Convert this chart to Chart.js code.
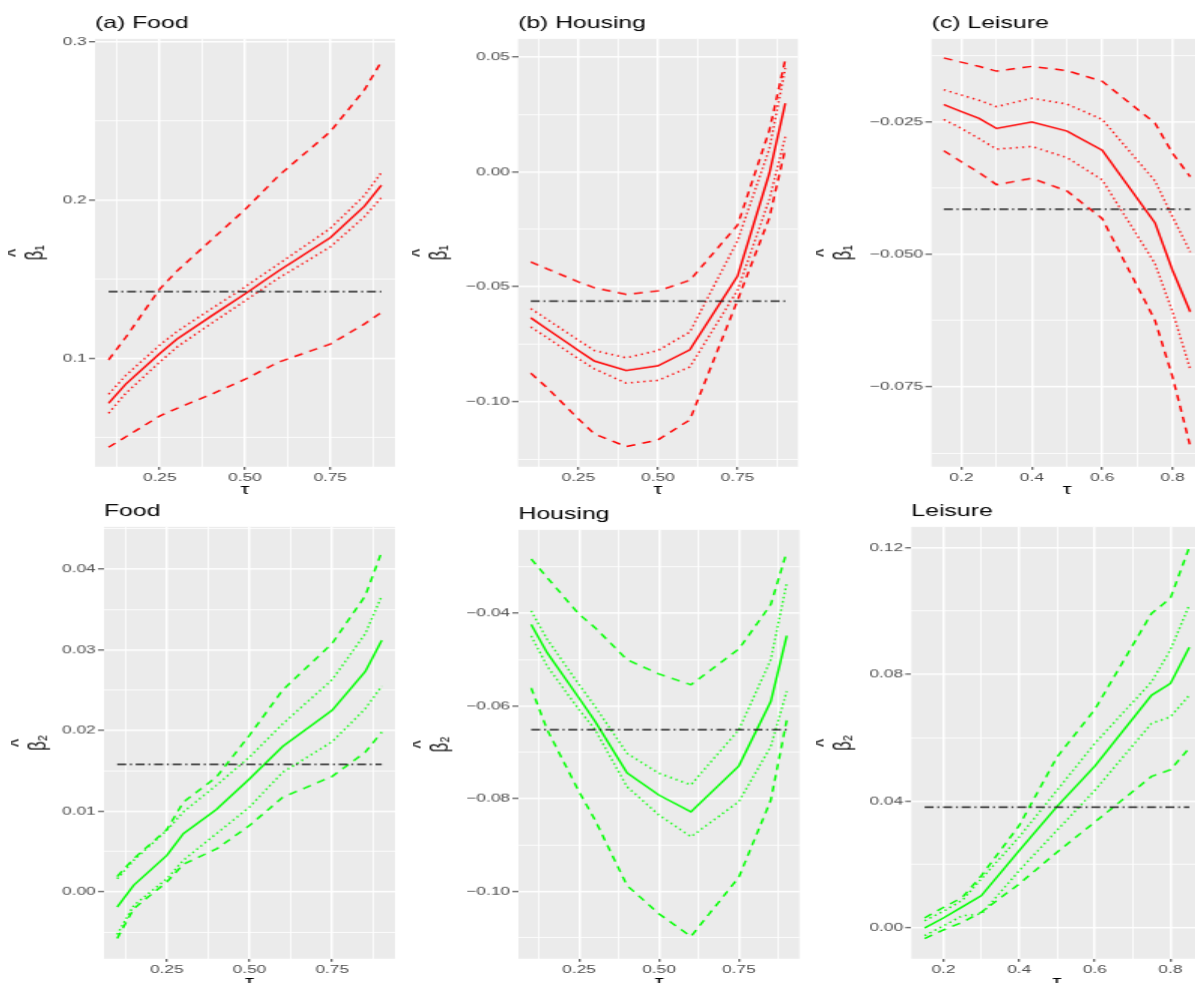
<!DOCTYPE html>
<html>
<head>
<meta charset="utf-8">
<title>Quantile coefficients</title>
<script src="https://cdn.jsdelivr.net/npm/chart.js@4.4.0/dist/chart.umd.min.js"></script>
<style>
  html, body { margin: 0; padding: 0; background: #fff; overflow: hidden; width: 1195px; height: 983px; }
  .panel { position: absolute; transform: scaleX(1.5); transform-origin: 0 0; }
</style>
</head>
<body>
<div class="panel" id="pa"><canvas id="ca"></canvas></div>
<div class="panel" id="pb"><canvas id="cb"></canvas></div>
<div class="panel" id="pc"><canvas id="cc"></canvas></div>
<div class="panel" id="pd"><canvas id="cd"></canvas></div>
<div class="panel" id="pe"><canvas id="ce"></canvas></div>
<div class="panel" id="pf"><canvas id="cf"></canvas></div>
<script>
// quantile levels
const tauFood    = [0.1, 0.15, 0.25, 0.3, 0.4, 0.5, 0.6, 0.75, 0.85, 0.9];
const tauHousing = [0.1, 0.15, 0.25, 0.3, 0.4, 0.5, 0.6, 0.75, 0.85, 0.9];
const tauLeisure = [0.15, 0.2, 0.25, 0.3, 0.4, 0.5, 0.6, 0.75, 0.8, 0.85];

// beta1 : estimate, dotted band, dashed band, mean (dot-dash)
const foodB1      = [0.0717, 0.0838, 0.1032, 0.1122, 0.1267, 0.1409, 0.1556, 0.1763, 0.1962, 0.2095];
const foodB1Up    = [0.0775, 0.0893, 0.1085, 0.1170, 0.1312, 0.1452, 0.1600, 0.1822, 0.2030, 0.2175];
const foodB1Lo    = [0.0655, 0.0780, 0.0978, 0.1072, 0.1220, 0.1365, 0.1510, 0.1705, 0.1895, 0.2017];
const foodB1Up95  = [0.0992, 0.1133, 0.1440, 0.1552, 0.1747, 0.1941, 0.2158, 0.2433, 0.2697, 0.2876];
const foodB1Lo95  = [0.0440, 0.0505, 0.0637, 0.0685, 0.0773, 0.0869, 0.0979, 0.1091, 0.1218, 0.1291];
const foodB1Mean  = 0.1423;

const housingB1     = [-0.0635, -0.0682, -0.0777, -0.0823, -0.0864, -0.0844, -0.0774, -0.0454, -0.0007, 0.0298];
const housingB1Up   = [-0.0595, -0.0640, -0.0733, -0.0777, -0.0809, -0.0777, -0.0697, -0.0300, 0.0100, 0.0450];
const housingB1Lo   = [-0.0675, -0.0720, -0.0813, -0.0857, -0.0919, -0.0907, -0.0849, -0.0515, -0.0120, 0.0152];
const housingB1Up95 = [-0.0392, -0.0421, -0.0479, -0.0504, -0.0533, -0.0518, -0.0472, -0.0232, 0.0180, 0.0488];
const housingB1Lo95 = [-0.0876, -0.0937, -0.1075, -0.1140, -0.1195, -0.1166, -0.1079, -0.0559, -0.0200, 0.0100];
const housingB1Mean = -0.0563;

const leisureB1     = [-0.0218, -0.0231, -0.0244, -0.0263, -0.0251, -0.0268, -0.0304, -0.0441, -0.0531, -0.0609];
const leisureB1Up   = [-0.0190, -0.0200, -0.0210, -0.0222, -0.0206, -0.0217, -0.0246, -0.0362, -0.0430, -0.0496];
const leisureB1Lo   = [-0.0246, -0.0263, -0.0282, -0.0302, -0.0297, -0.0318, -0.0360, -0.0518, -0.0609, -0.0717];
const leisureB1Up95 = [-0.0130, -0.0138, -0.0146, -0.0155, -0.0146, -0.0154, -0.0174, -0.0253, -0.0310, -0.0354];
const leisureB1Lo95 = [-0.0305, -0.0326, -0.0346, -0.0369, -0.0357, -0.0381, -0.0433, -0.0625, -0.0732, -0.0862];
const leisureB1Mean = -0.0415;

// beta2
const foodB2      = [-0.0019, 0.0008, 0.0045, 0.0072, 0.0102, 0.0140, 0.0180, 0.0225, 0.0273, 0.0312];
const foodB2Up    = [0.0016, 0.0039, 0.0076, 0.0099, 0.0132, 0.0167, 0.0208, 0.0263, 0.0320, 0.0367];
const foodB2Lo    = [-0.0053, -0.0017, 0.0016, 0.0039, 0.0072, 0.0105, 0.0148, 0.0186, 0.0227, 0.0255];
const foodB2Up95  = [0.0019, 0.0041, 0.0077, 0.0111, 0.0142, 0.0194, 0.0250, 0.0308, 0.0367, 0.0422];
const foodB2Lo95  = [-0.0058, -0.0021, 0.0012, 0.0034, 0.0053, 0.0082, 0.0117, 0.0143, 0.0173, 0.0198];
const foodB2Mean  = 0.0158;

const housingB2     = [-0.0424, -0.0485, -0.0583, -0.0633, -0.0744, -0.0792, -0.0828, -0.0729, -0.0590, -0.0448];
const housingB2Up   = [-0.0395, -0.0456, -0.0554, -0.0601, -0.0702, -0.0745, -0.0770, -0.0651, -0.0500, -0.0334];
const housingB2Lo   = [-0.0449, -0.0514, -0.0608, -0.0651, -0.0774, -0.0835, -0.0882, -0.0806, -0.0687, -0.0568];
const housingB2Up95 = [-0.0283, -0.0323, -0.0402, -0.0431, -0.0500, -0.0531, -0.0554, -0.0477, -0.0381, -0.0267];
const housingB2Lo95 = [-0.0561, -0.0651, -0.0785, -0.0846, -0.0987, -0.1048, -0.1097, -0.0969, -0.0803, -0.0630];
const housingB2Mean = -0.0651;

const leisureB2     = [0.0000, 0.0032, 0.0067, 0.0102, 0.0244, 0.0383, 0.0510, 0.0734, 0.0771, 0.0885];
const leisureB2Up   = [0.0023, 0.0053, 0.0088, 0.0155, 0.0287, 0.0434, 0.0582, 0.0776, 0.0877, 0.1019];
const leisureB2Lo   = [-0.0024, 0.0007, 0.0039, 0.0044, 0.0181, 0.0308, 0.0434, 0.0645, 0.0666, 0.0734];
const leisureB2Up95 = [0.0032, 0.0065, 0.0097, 0.0165, 0.0323, 0.0539, 0.0689, 0.0992, 0.1040, 0.1201];
const leisureB2Lo95 = [-0.0033, -0.0006, 0.0018, 0.0050, 0.0139, 0.0239, 0.0334, 0.0478, 0.0499, 0.0568];
const leisureB2Mean = 0.0381;

// tick values and labels
const xTicksHalf  = [0.25, 0.5, 0.75];
const xLabelsHalf = ['0.25', '0.50', '0.75'];
const xTicksFifth  = [0.2, 0.4, 0.6, 0.8];
const xLabelsFifth = ['0.2', '0.4', '0.6', '0.8'];

const yTicksA = [0.1, 0.2, 0.3];
const yLabelsA = ['0.1', '0.2', '0.3'];
const yTicksB = [-0.10, -0.05, 0.00, 0.05];
const yLabelsB = ['\u22120.10', '\u22120.05', '0.00', '0.05'];
const yTicksC = [-0.075, -0.050, -0.025];
const yLabelsC = ['\u22120.075', '\u22120.050', '\u22120.025'];
const yTicksD = [0.00, 0.01, 0.02, 0.03, 0.04];
const yLabelsD = ['0.00', '0.01', '0.02', '0.03', '0.04'];
const yTicksE = [-0.10, -0.08, -0.06, -0.04];
const yLabelsE = ['\u22120.10', '\u22120.08', '\u22120.06', '\u22120.04'];
const yTicksF = [0.00, 0.04, 0.08, 0.12];
const yLabelsF = ['0.00', '0.04', '0.08', '0.12'];

const RED = '#ff0000';
const GREEN = '#00ff00';
const S = 1.5;           // the figure is stretched horizontally
const FONT = "'Liberation Sans', Arial, Helvetica, sans-serif";

Chart.defaults.font.family = FONT;

const panelBg = {
  id: 'panelBg',
  beforeDraw(chart) {
    const { ctx, chartArea: a } = chart;
    ctx.save();
    ctx.fillStyle = '#ebebeb';
    ctx.fillRect(a.left, a.top, a.right - a.left, a.bottom - a.top);
    ctx.restore();
  }
};

function near(a, b) { return Math.abs(a - b) < 1e-9; }

// major ticks plus ggplot style minor ticks half way between them
function allTicks(major, min, max) {
  const step = major[1] - major[0];
  const out = [];
  for (let i = -1; i < major.length; i++) {
    const m = (i < 0 ? major[0] - step : major[i]) + step / 2;
    if (m > min && m < max) out.push(m);
    if (i >= 0) out.push(major[i]);
  }
  return out.sort((a, b) => a - b);
}

function axis(major, labels, min, max, extra) {
  const isMajor = v => major.some(t => near(t, v));
  return Object.assign({
    type: 'linear',
    min: min,
    max: max,
    afterBuildTicks: s => { s.ticks = allTicks(major, min, max).map(v => ({ value: v })); },
    border: { display: false },
    grid: {
      color: '#ffffff',
      lineWidth: c => (c.tick && isMajor(c.tick.value)) ? 1.5 : 0.8,
      tickColor: c => (c.tick && isMajor(c.tick.value)) ? '#333333' : 'rgba(0,0,0,0)',
      tickWidth: 1
    },
    ticks: {
      autoSkip: false,
      maxRotation: 0,
      color: '#4d4d4d',
      font: { size: 11.5 },
      callback: v => {
        const i = major.findIndex(t => near(t, v));
        return i < 0 ? '' : labels[i];
      }
    }
  }, extra);
}

function series(tau, vals) { return tau.map((t, i) => ({ x: t, y: vals[i] })); }

function makePanel(id, canvasId, p) {
  const titleH = 16.5 * 1.2 + 5;
  const xh = 32;
  const wrapLeft = p.ylabX - 27;
  const yw = (p.left - wrapLeft) / S;
  const plotW = (p.right - p.left) / S;
  const wrap = document.getElementById(id);
  wrap.style.left = wrapLeft + 'px';
  wrap.style.top = (p.top - titleH) + 'px';
  wrap.style.width = (yw + plotW + 4) + 'px';
  wrap.style.height = (titleH + p.bottom - p.top + xh) + 'px';

  const col = p.color;
  new Chart(document.getElementById(canvasId), {
    type: 'line',
    data: {
      datasets: [
        { data: series([p.tau[0], p.tau[p.tau.length - 1]], [p.mean, p.mean]), borderColor: '#222222', borderDash: [6, 2.5, 1.3, 2.5] },
        { data: series(p.tau, p.est), borderColor: col },
        { data: series(p.tau, p.up), borderColor: col, borderDash: [1.4, 2.8] },
        { data: series(p.tau, p.lo), borderColor: col, borderDash: [1.4, 2.8] },
        { data: series(p.tau, p.up95), borderColor: col, borderDash: [6, 5] },
        { data: series(p.tau, p.lo95), borderColor: col, borderDash: [6, 5] }
      ]
    },
    options: {
      responsive: true,
      maintainAspectRatio: false,
      animation: false,
      events: [],
      layout: { padding: { top: 0, left: 0, bottom: 0, right: 4 } },
      elements: { point: { radius: 0 }, line: { borderWidth: 1.5, tension: 0 } },
      plugins: {
        legend: { display: false },
        tooltip: { enabled: false },
        title: {
          display: true, text: p.title, align: 'start', fullSize: false,
          color: '#000000', font: { size: 16.5, weight: 'normal' },
          padding: { top: 0, bottom: 5 }
        }
      },
      scales: {
        x: axis(p.xTicks, p.xLabels, p.xmin, p.xmax, {
          afterFit: s => { s.height = xh; },
          title: { display: true, text: '\u03c4', color: '#000000', font: { size: 15 }, padding: 0 }
        }),
        y: axis(p.yTicks, p.yLabels, p.ymin, p.ymax, {
          afterFit: s => { s.width = yw; },
          // hat on its own line so it sits over the beta once rotated
          title: { display: true, text: ['^', p.ylab], color: '#000000', font: { size: 16.5, lineHeight: 0.75 }, padding: 0 }
        })
      }
    },
    plugins: [panelBg]
  });
  // x tick marks / label spacing
  const ch = Chart.getChart(canvasId);
  ch.options.scales.x.grid.tickLength = 3;
  ch.options.scales.x.ticks.padding = 1;
  ch.options.scales.y.grid.tickLength = 4;
  ch.options.scales.y.ticks.padding = 1.5;
  ch.update('none');
}

const B1 = '\u03b2\u2081';
const B2 = '\u03b2\u2082';

makePanel('pa', 'ca', { title: '(a) Food', ylab: B1, color: RED,
  tau: tauFood, est: foodB1, up: foodB1Up, lo: foodB1Lo, up95: foodB1Up95, lo95: foodB1Lo95, mean: foodB1Mean,
  xTicks: xTicksHalf, xLabels: xLabelsHalf, xmin: 0.06, xmax: 0.94,
  yTicks: yTicksA, yLabels: yLabelsA, ymin: 0.0316, ymax: 0.302,
  left: 95, right: 395, top: 39, bottom: 466, ylabX: 35 });

makePanel('pb', 'cb', { title: '(b) Housing', ylab: B1, color: RED,
  tau: tauHousing, est: housingB1, up: housingB1Up, lo: housingB1Lo, up95: housingB1Up95, lo95: housingB1Lo95, mean: housingB1Mean,
  xTicks: xTicksHalf, xLabels: xLabelsHalf, xmin: 0.06, xmax: 0.94,
  yTicks: yTicksB, yLabels: yLabelsB, ymin: -0.1283, ymax: 0.0578,
  left: 518, right: 798, top: 39, bottom: 466, ylabX: 439 });

makePanel('pc', 'cc', { title: '(c) Leisure', ylab: B1, color: RED,
  tau: tauLeisure, est: leisureB1, up: leisureB1Up, lo: leisureB1Lo, up95: leisureB1Up95, lo95: leisureB1Lo95, mean: leisureB1Mean,
  xTicks: xTicksFifth, xLabels: xLabelsFifth, xmin: 0.115, xmax: 0.885,
  yTicks: yTicksC, yLabels: yLabelsC, ymin: -0.0901, ymax: -0.0094,
  left: 931, right: 1201, top: 39, bottom: 466, ylabX: 843 });

makePanel('pd', 'cd', { title: 'Food', ylab: B2, color: GREEN,
  tau: tauFood, est: foodB2, up: foodB2Up, lo: foodB2Lo, up95: foodB2Up95, lo95: foodB2Lo95, mean: foodB2Mean,
  xTicks: xTicksHalf, xLabels: xLabelsHalf, xmin: 0.06, xmax: 0.94,
  yTicks: yTicksD, yLabels: yLabelsD, ymin: -0.00833, ymax: 0.04526,
  left: 104, right: 395, top: 527, bottom: 958, ylabX: 38 });

makePanel('pe', 'ce', { title: 'Housing', ylab: B2, color: GREEN,
  tau: tauHousing, est: housingB2, up: housingB2Up, lo: housingB2Lo, up95: housingB2Up95, lo95: housingB2Lo95, mean: housingB2Mean,
  xTicks: xTicksHalf, xLabels: xLabelsHalf, xmin: 0.06, xmax: 0.94,
  yTicks: yTicksE, yLabels: yLabelsE, ymin: -0.1145, ymax: -0.022,
  left: 518, right: 798, top: 530, bottom: 958, ylabX: 440 });

makePanel('pf', 'cf', { title: 'Leisure', ylab: B2, color: GREEN,
  tau: tauLeisure, est: leisureB2, up: leisureB2Up, lo: leisureB2Lo, up95: leisureB2Up95, lo95: leisureB2Lo95, mean: leisureB2Mean,
  xTicks: xTicksFifth, xLabels: xLabelsFifth, xmin: 0.115, xmax: 0.885,
  yTicks: yTicksF, yLabels: yLabelsF, ymin: -0.0097, ymax: 0.1265,
  left: 911, right: 1201, top: 527, bottom: 958, ylabX: 843 });
</script>
</body>
</html>
